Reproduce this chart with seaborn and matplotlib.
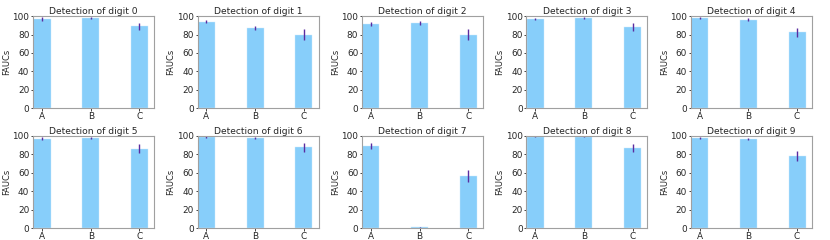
import numpy as np
import pandas as pd
import matplotlib
matplotlib.use("Agg")
import matplotlib.pyplot as plt
import seaborn as sns

methods = ["A", "B", "C"]
digits = list(range(10))

# mean FAUC per digit for methods A, B, C
auc_a = [97.0, 94.0, 91.5, 97.0, 97.5, 97.0, 98.5, 89.0, 99.0, 97.5]
auc_b = [98.0, 87.0, 92.5, 97.5, 96.0, 97.5, 98.0, 1.0, 99.0, 96.5]
auc_c = [89.0, 80.0, 80.0, 88.5, 82.5, 86.0, 87.5, 56.0, 87.0, 78.0]

# standard deviations
std_a = [2.0, 1.5, 2.0, 1.0, 1.0, 1.5, 1.0, 3.0, 0.5, 1.0]
std_b = [1.0, 2.0, 2.0, 1.0, 1.5, 1.0, 1.0, 0.5, 0.5, 1.0]
std_c = [4.0, 5.5, 5.5, 4.5, 5.0, 5.0, 4.5, 6.5, 4.5, 5.5]

df = pd.DataFrame({
    "digit": np.repeat(digits, 3),
    "method": methods * len(digits),
    "fauc": np.column_stack([auc_a, auc_b, auc_c]).ravel(),
    "std": np.column_stack([std_a, std_b, std_c]).ravel(),
})

sns.set_style("white")
plt.rcParams["font.family"] = ["DejaVu Sans"]

fig, axes = plt.subplots(2, 5, figsize=(8.3, 2.4), dpi=100)
fig.subplots_adjust(left=0.04, right=0.978, top=0.933, bottom=0.05,
                    wspace=0.36, hspace=0.30)

for d, ax in zip(digits, axes.ravel()):
    sub = df[df["digit"] == d]
    sns.barplot(data=sub, x="method", y="fauc", order=methods, ax=ax,
                color="#87CEFA", saturation=1, width=0.35, errorbar=None,
                edgecolor="#cdeafc", linewidth=0.3)
    ax.errorbar(np.arange(len(methods)), sub["fauc"], yerr=sub["std"],
                fmt="none", ecolor="#5a2ca0", elinewidth=1.0, capsize=0)
    ax.set_ylim(0, 100)
    ax.set_xlim(-0.18, 2.3)
    ax.set_yticks([0, 20, 40, 60, 80, 100])
    ax.set_title(f"Detection of digit {d}", fontsize=6.6, pad=1.2)
    ax.set_xlabel("")
    ax.set_ylabel("FAUCs", fontsize=6, labelpad=1)
    ax.tick_params(axis="both", labelsize=6.4, length=1.8, width=0.6,
                   direction="out", pad=1, left=True, bottom=True)
    for sp in ax.spines.values():
        sp.set_color("#a0a0a0")
        sp.set_linewidth(0.8)

fig.savefig("out.png", dpi=100)
